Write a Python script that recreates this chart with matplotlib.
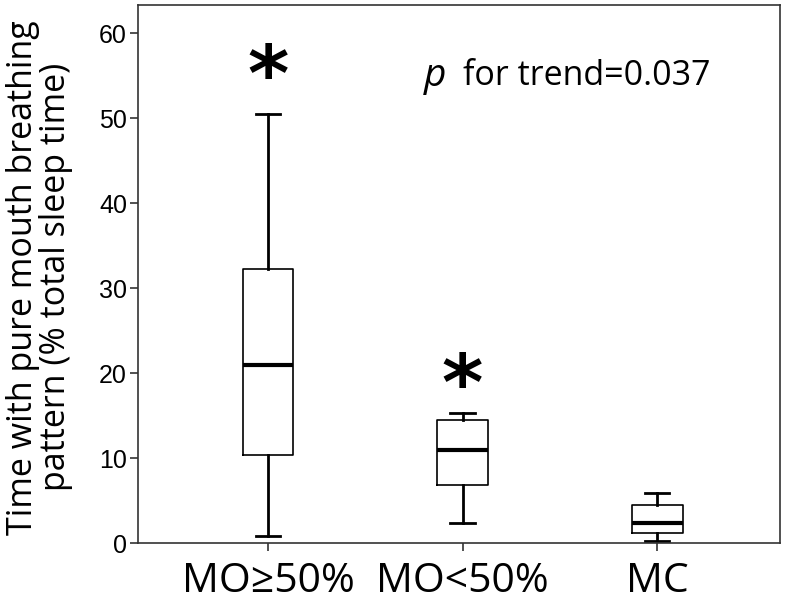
import matplotlib.pyplot as plt

# Group labels and box statistics
groups = ["MO≥50%", "MO<50%", "MC"]
whisker_low = [0.8, 2.3, 0.2]
q1 = [10.3, 6.8, 1.2]
median = [21.0, 11.0, 2.3]
q3 = [32.3, 14.5, 4.5]
whisker_high = [50.5, 15.3, 5.9]

# asterisks marking significant groups
star_groups = [1, 2]
star_y = [54.6, 18.2]

trend_text = "for trend=0.037"

stats = []
for i in range(len(groups)):
    stats.append(dict(label=groups[i], whislo=whisker_low[i], q1=q1[i], med=median[i],
                      q3=q3[i], whishi=whisker_high[i], fliers=[]))

fig = plt.figure(figsize=(7.91, 6.03), dpi=100)
ax = fig.add_axes([0.1745, 0.0995, 0.8115, 0.892])

positions = [1, 2, 3]
ax.bxp(stats, positions=positions, widths=0.26, showfliers=False,
       capwidths=0.125,
       boxprops=dict(color="black", linewidth=1.2),
       whiskerprops=dict(color="black", linewidth=2),
       capprops=dict(color="black", linewidth=2),
       medianprops=dict(color="black", linewidth=3))

for g, y in zip(star_groups, star_y):
    ax.text(g, y, "*", ha="center", va="center", fontsize=57, fontweight="bold",
            family="DejaVu Sans")

ax.text(1.80, 55.0, "p", ha="left", va="center", fontsize=28, style="italic",
        family="Open Sans")
ax.text(2.0, 55.0, trend_text, ha="left", va="center", fontsize=24.5, family="Open Sans")

ax.set_xlim(0.333, 3.63)
ax.set_ylim(0, 63.3)
ax.set_yticks([0, 10, 20, 30, 40, 50, 60])
ax.set_xticks(positions)
ax.set_xticklabels(groups, fontsize=29.5, family="Open Sans")
for lbl in ax.get_yticklabels():
    lbl.set_fontsize(18)
    lbl.set_family("Liberation Sans")
ax.tick_params(axis="both", direction="out", length=6, width=1.2, color="#333333")
ax.tick_params(axis="x", pad=7)
ax.tick_params(axis="y", pad=2)

for s in ax.spines.values():
    s.set_color("#333333")
    s.set_linewidth(1.2)

ax.set_ylabel("Time with pure mouth breathing\npattern (% total sleep time)",
              fontsize=24.5, family="Open Sans", linespacing=0.95)
ax.yaxis.set_label_coords(-0.101, 0.494)

fig.savefig("out.png", dpi=100)
